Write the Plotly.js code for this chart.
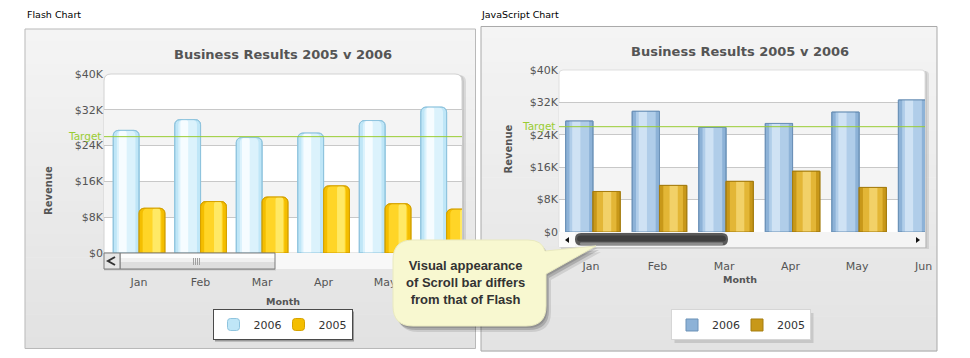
<!DOCTYPE html>
<html>
<head>
<meta charset="utf-8">
<script src="https://cdn.plot.ly/plotly-3.0.1.min.js"></script>
<style>
  html, body { margin: 0; padding: 0; background: #ffffff; }
  #chart { width: 970px; height: 358px; }
</style>
</head>
<body>
<div id="chart"></div>
<script>
// ---------------- DATA ----------------
const months = ['Jan', 'Feb', 'Mar', 'Apr', 'May', 'Jun'];
const revenue2006 = [27400, 29800, 25800, 26800, 29600, 32600];
const revenue2005 = [10000, 11500, 12500, 15000, 11000, 9800];
const seriesNames = ['2006', '2005'];
const targetValue = 26000;
const targetLabel = 'Target';
const yTickValues = [0, 8000, 16000, 24000, 32000, 40000];
const yTickLabels = ['$0', '$8K', '$16K', '$24K', '$32K', '$40K'];
const chartTitle = 'Business Results 2005 v 2006';
const xTitle = 'Month';
const yTitle = 'Revenue';
const panelCaptions = ['Flash Chart', 'JavaScript Chart'];
const calloutText = 'Visual appearance<br>of Scroll bar differs<br>from that of Flash';

// ---------------- HELPERS ----------------
const W = 970, H = 358;
const X = v => +(v / W).toFixed(5);
const Y = v => +(1 - v / H).toFixed(5);
const p = (x, y) => X(x) + ',' + Y(y);
const FONT = 'DejaVu Sans, Verdana, sans-serif';
const ARIAL = 'Liberation Sans, Arial, sans-serif';

function hex2rgb(h) { return [1, 3, 5].map(i => parseInt(h.substr(i, 2), 16)); }
function lerp(c0, c1, t) {
  const a = hex2rgb(c0), b = hex2rgb(c1);
  return 'rgb(' + a.map((v, i) => Math.round(v + (b[i] - v) * t)).join(',') + ')';
}
function rect(x0, y0, x1, y1, fill, line, layer) {
  return { type: 'rect', xref: 'paper', yref: 'paper', x0: X(x0), x1: X(x1), y0: Y(y1), y1: Y(y0),
    fillcolor: fill || 'rgba(0,0,0,0)', line: line || { width: 0 }, layer: layer || 'below' };
}
function rrPath(x0, y0, x1, y1, rt, rb) {
  return 'M' + p(x0 + rt, y0) + ' L' + p(x1 - rt, y0) + ' Q' + p(x1, y0) + ' ' + p(x1, y0 + rt) +
    ' L' + p(x1, y1 - rb) + ' Q' + p(x1, y1) + ' ' + p(x1 - rb, y1) +
    ' L' + p(x0 + rb, y1) + ' Q' + p(x0, y1) + ' ' + p(x0, y1 - rb) +
    ' L' + p(x0, y0 + rt) + ' Q' + p(x0, y0) + ' ' + p(x0 + rt, y0) + ' Z';
}
function pathShape(path, fill, line, layer) {
  return { type: 'path', xref: 'paper', yref: 'paper', path: path,
    fillcolor: fill || 'rgba(0,0,0,0)', line: line || { width: 0 }, layer: layer || 'below' };
}
function gradientBands(x0, y0, x1, y1, cTop, cBot, n) {
  const out = [];
  const h = (y1 - y0) / n;
  for (let i = 0; i < n; i++) {
    out.push(rect(x0, y0 + i * h, x1, y0 + (i + 1) * h + 0.6, lerp(cTop, cBot, i / (n - 1)), null, 'below'));
  }
  return out;
}

// ---------------- CHART STYLES ----------------
const charts = [
  { xa: 'x', ya: 'y', legend: 'legend', w: 0.42, shift: 0, radius: 5,
    styles: [
      { edge: '#bfe6f7', mid: '#dbf2fc', light: '#f6fcff', line: '#8fc4de', hiShift: 0.10 },
      { edge: '#f4be00', mid: '#ffd527', light: '#ffe965', line: '#d5a200', hiShift: 0.40 }
    ] },
  { xa: 'x2', ya: 'y2', legend: 'legend2', w: 0.41, shift: 0.03, radius: 0,
    styles: [
      { edge: '#8db2d7', mid: '#b0cde9', light: '#cfe2f4', line: '#6c92b8', hiShift: 0.12 },
      { edge: '#c89819', mid: '#e3b636', light: '#f2d168', line: '#a57d10', hiShift: 0.25 }
    ] }
];
const seriesValues = [revenue2006, revenue2005];

// ---------------- TRACES ----------------
const traces = [];
charts.forEach(ch => {
  seriesValues.forEach((vals, si) => {
    const st = ch.styles[si];
    const off = (si === 0 ? -ch.w : 0) + ch.shift;
    const common = { type: 'bar', x: months, y: vals, xaxis: ch.xa, yaxis: ch.ya, hoverinfo: 'skip', legend: ch.legend };
    const cr = ch.radius ? { cornerradius: ch.radius } : {};
    const legendTrace = Object.assign({}, common, {
      name: seriesNames[si], showlegend: true, legendrank: si + 1, width: ch.w, offset: off,
      marker: Object.assign({ color: st.edge, line: { color: st.line, width: 1 } }, cr)
    });
    if (si === 0) legendTrace.legendwidth = 20;
    traces.push(legendTrace);
    traces.push(Object.assign({}, common, {
      name: seriesNames[si] + ' mid', showlegend: false, width: ch.w * 0.72, offset: off + ch.w * 0.14,
      marker: Object.assign({ color: st.mid, line: { width: 0 } }, cr)
    }));
    traces.push(Object.assign({}, common, {
      name: seriesNames[si] + ' hi', showlegend: false, width: ch.w * 0.3, offset: off + ch.w * st.hiShift + ch.w * 0.12,
      marker: Object.assign({ color: st.light, line: { width: 0 } }, cr)
    }));
    traces.push(Object.assign({}, common, {
      name: seriesNames[si] + ' outline', showlegend: false, width: ch.w, offset: off,
      marker: Object.assign({ color: 'rgba(0,0,0,0)', line: { color: st.line, width: 1 } }, cr)
    }));
  });
});

// ---------------- SHAPES ----------------
const shapes = [];
// panels
shapes.push(...gradientBands(25, 29, 475.5, 348.5, '#f4f4f4', '#e2e2e2', 28));
shapes.push(rect(25, 29, 475.5, 348.5, null, { color: '#b9b9b9', width: 1 }, 'below'));
shapes.push(...gradientBands(481, 26.5, 937, 351, '#f4f4f4', '#e3e3e3', 28));
shapes.push(rect(481, 26.5, 937, 351, null, { color: '#a9a9a9', width: 1 }, 'below'));

// plot area backgrounds (with shadow)
shapes.push(pathShape(rrPath(106, 75, 466, 256, 7, 0), 'rgba(0,0,0,0.10)', null, 'below'));
shapes.push(pathShape(rrPath(105, 74.5, 464, 254, 7, 0), 'rgba(0,0,0,0.08)', null, 'below'));
shapes.push(pathShape(rrPath(104, 74, 462, 253, 7, 0), '#ffffff', { color: '#d2d2d2', width: 1 }, 'below'));
shapes.push(pathShape(rrPath(561, 71, 929, 249, 4, 0), 'rgba(0,0,0,0.10)', null, 'below'));
shapes.push(pathShape(rrPath(560, 70.5, 927, 248, 4, 0), 'rgba(0,0,0,0.08)', null, 'below'));
shapes.push(pathShape(rrPath(559, 70, 925, 247, 4, 0), '#ffffff', { color: '#dedede', width: 1 }, 'below'));

// alternating bands from tick values
charts.forEach(ch => {
  for (let i = 0; i < yTickValues.length - 1; i++) {
    if (i % 2 === 1) {
      shapes.push({ type: 'rect', xref: ch.xa + ' domain', yref: ch.ya, x0: 0, x1: 1,
        y0: yTickValues[i], y1: yTickValues[i + 1], fillcolor: '#f4f4f4', line: { width: 0 }, layer: 'below' });
    }
  }
  // target line
  shapes.push({ type: 'line', xref: ch.xa + ' domain', yref: ch.ya, x0: 0, x1: 1,
    y0: targetValue, y1: targetValue, line: { color: '#99cc33', width: 1 }, layer: 'above' });
});

// left (flash) scroll bar
shapes.push(rect(275, 253, 462, 269, '#f8f8f8', null, 'above'));
shapes.push(rect(120, 253, 275, 269, '#dedede', null, 'above'));
shapes.push(rect(120, 253, 275, 262, '#f0f0f0', null, 'above'));
shapes.push(rect(120, 253, 275, 258, '#fcfcfc', null, 'above'));
shapes.push(rect(120, 253, 275, 269, null, { color: '#7c7c7c', width: 1 }, 'above'));
shapes.push(rect(104, 253, 120, 269, '#e6e6e6', { color: '#7c7c7c', width: 1 }, 'above'));
shapes.push(pathShape('M' + p(115, 257) + ' L' + p(108, 261) + ' L' + p(115, 265), null, { color: '#333333', width: 2 }, 'above'));
[193.5, 195.5, 197.5, 199.5].forEach(gx => {
  shapes.push(pathShape('M' + p(gx, 258) + ' L' + p(gx, 265), null, { color: '#a0a0a0', width: 1 }, 'above'));
});
shapes.push(rect(104, 269, 276, 270.5, 'rgba(0,0,0,0.12)', null, 'above'));

// right (javascript) scroll bar
shapes.push(rect(559, 232, 925, 247, '#f4f4f4', null, 'above'));
shapes.push(rect(559, 232, 575, 247, '#fbfbfb', null, 'above'));
shapes.push(pathShape('M' + p(569, 237) + ' L' + p(565, 240) + ' L' + p(569, 243) + ' Z', '#111111', null, 'above'));
shapes.push(pathShape('M' + p(916, 237) + ' L' + p(920, 240) + ' L' + p(916, 243) + ' Z', '#111111', null, 'above'));
shapes.push(pathShape(rrPath(575, 233, 728, 245.5, 6, 6), '#5a5a5a', null, 'above'));
shapes.push(pathShape(rrPath(577, 235.5, 726, 241.5, 4, 3), '#3f3f3f', null, 'above'));
shapes.push(pathShape(rrPath(580, 242.5, 723, 245, 1, 1), '#8c8c8c', null, 'above'));

// callout bubble
function bubble(dx, dy) {
  const q = (x, y) => p(x + dx, y + dy);
  return 'M' + q(413, 240) + ' L' + q(528, 240) + ' Q' + q(542, 240) + ' ' + q(545, 251) +
    ' L' + q(596, 246) + ' L' + q(546, 274) +
    ' L' + q(546, 306) + ' Q' + q(546, 326) + ' ' + q(526, 326) +
    ' L' + q(413, 326) + ' Q' + q(393, 326) + ' ' + q(393, 306) +
    ' L' + q(393, 260) + ' Q' + q(393, 240) + ' ' + q(413, 240) + ' Z';
}
shapes.push(pathShape(bubble(5, 6), 'rgba(0,0,0,0.10)', null, 'above'));
shapes.push(pathShape(bubble(3, 4), 'rgba(0,0,0,0.16)', null, 'above'));
shapes.push(pathShape(bubble(1.5, 2), 'rgba(0,0,0,0.14)', null, 'above'));
shapes.push(pathShape(bubble(0, 0), '#f8f8d0', { color: '#e9e9c0', width: 1 }, 'above'));

// ---------------- ANNOTATIONS ----------------
const ann = (text, x, y, o) => Object.assign({ text: text, x: X(x), y: Y(y), xref: 'paper', yref: 'paper',
  showarrow: false, xanchor: 'center', yanchor: 'middle' }, o || {});
const annotations = [
  ann(panelCaptions[0], 25, 14, { xanchor: 'left', font: { family: FONT, size: 9.5, color: '#000' } }),
  ann(panelCaptions[1], 479, 14, { xanchor: 'left', font: { family: FONT, size: 9.5, color: '#000' } }),
  ann('<b>' + chartTitle + '</b>', 282.5, 54, { font: { family: FONT, size: 13, color: '#555' } }),
  ann('<b>' + chartTitle + '</b>', 740, 51, { font: { family: FONT, size: 13, color: '#555' } }),
  ann('<b>' + yTitle + '</b>', 48, 190, { textangle: -90, font: { family: FONT, size: 10, color: '#555' } }),
  ann('<b>' + yTitle + '</b>', 509, 148.5, { textangle: -90, font: { family: FONT, size: 10, color: '#555' } }),
  ann('<b>' + xTitle + '</b>', 282.5, 301.5, { font: { family: FONT, size: 9.5, color: '#555' } }),
  ann('<b>' + xTitle + '</b>', 740, 279, { font: { family: FONT, size: 9.5, color: '#555' } }),
  { text: targetLabel, xref: 'x domain', yref: 'y', x: 0, y: targetValue, xanchor: 'right', yanchor: 'middle',
    xshift: -1, yshift: 1, showarrow: false, font: { family: FONT, size: 10.5, color: '#99cc33' } },
  { text: targetLabel, xref: 'x2 domain', yref: 'y2', x: 0, y: targetValue, xanchor: 'right', yanchor: 'middle',
    xshift: -2, yshift: 1, showarrow: false, font: { family: FONT, size: 10.5, color: '#99cc33' } },
  ann('<b>' + calloutText + '</b>', 466, 283, { align: 'center', font: { family: ARIAL, size: 13, color: '#333' } })
];

// ---------------- LAYOUT ----------------
const tickFont = { family: FONT, size: 11, color: '#555' };
const xBase = { type: 'category', showgrid: false, zeroline: false, showline: false, ticks: 'outside',
  tickcolor: 'rgba(0,0,0,0)', tickfont: tickFont, fixedrange: true };
const yBase = { range: [0, 40000], tickmode: 'array', tickvals: yTickValues, ticktext: yTickLabels,
  showgrid: true, gridcolor: '#c8c8c8', gridwidth: 1, zeroline: false, showline: false, ticks: '',
  tickfont: tickFont, fixedrange: true };

const layout = {
  width: W, height: H, margin: { l: 0, r: 0, t: 0, b: 0 },
  paper_bgcolor: '#ffffff', plot_bgcolor: 'rgba(0,0,0,0)',
  barmode: 'overlay', showlegend: true,
  font: { family: FONT, size: 11, color: '#555' },
  xaxis: Object.assign({}, xBase, { domain: [X(104), X(462)], range: [-0.57, 5.25], anchor: 'y', ticklen: 19 }),
  yaxis: Object.assign({}, yBase, { domain: [Y(253), Y(74)], anchor: 'x' }),
  xaxis2: Object.assign({}, xBase, { domain: [X(559), X(925)], range: [-0.48, 5.02], anchor: 'y2', ticklen: 24 }),
  yaxis2: Object.assign({}, yBase, { domain: [Y(232), Y(70)], anchor: 'x2' }),
  legend: { orientation: 'h', x: X(282.5), xanchor: 'center', y: Y(324.5), yanchor: 'middle',
    bgcolor: '#ffffff', bordercolor: '#4a4a4a', borderwidth: 1, font: { family: FONT, size: 11, color: '#333' } },
  legend2: { orientation: 'h', x: X(741), xanchor: 'center', y: Y(325), yanchor: 'middle',
    bgcolor: '#ffffff', bordercolor: '#d6d6d6', borderwidth: 1, font: { family: FONT, size: 11, color: '#333' } },
  shapes: shapes,
  annotations: annotations
};

Plotly.newPlot('chart', traces, layout, { staticPlot: true, displayModeBar: false }).then(gd => {
  // soft shadows under the two legend boxes, placed from the boxes Plotly laid out
  const extra = [];
  const root = gd.getBoundingClientRect();
  [['legend', 'rgba(0,0,0,0.32)', 2], ['legend2', 'rgba(0,0,0,0.12)', 3]].forEach(([cls, col, d]) => {
    const bg = gd.querySelector('g.' + cls + ' rect.bg');
    if (!bg) return;
    const r = bg.getBoundingClientRect();
    extra.push(rect(r.left - root.left + d, r.top - root.top + d, r.right - root.left + d, r.bottom - root.top + d, col, null, 'above'));
  });
  if (extra.length) Plotly.relayout(gd, { shapes: shapes.concat(extra) });
});
</script>
</body>
</html>
